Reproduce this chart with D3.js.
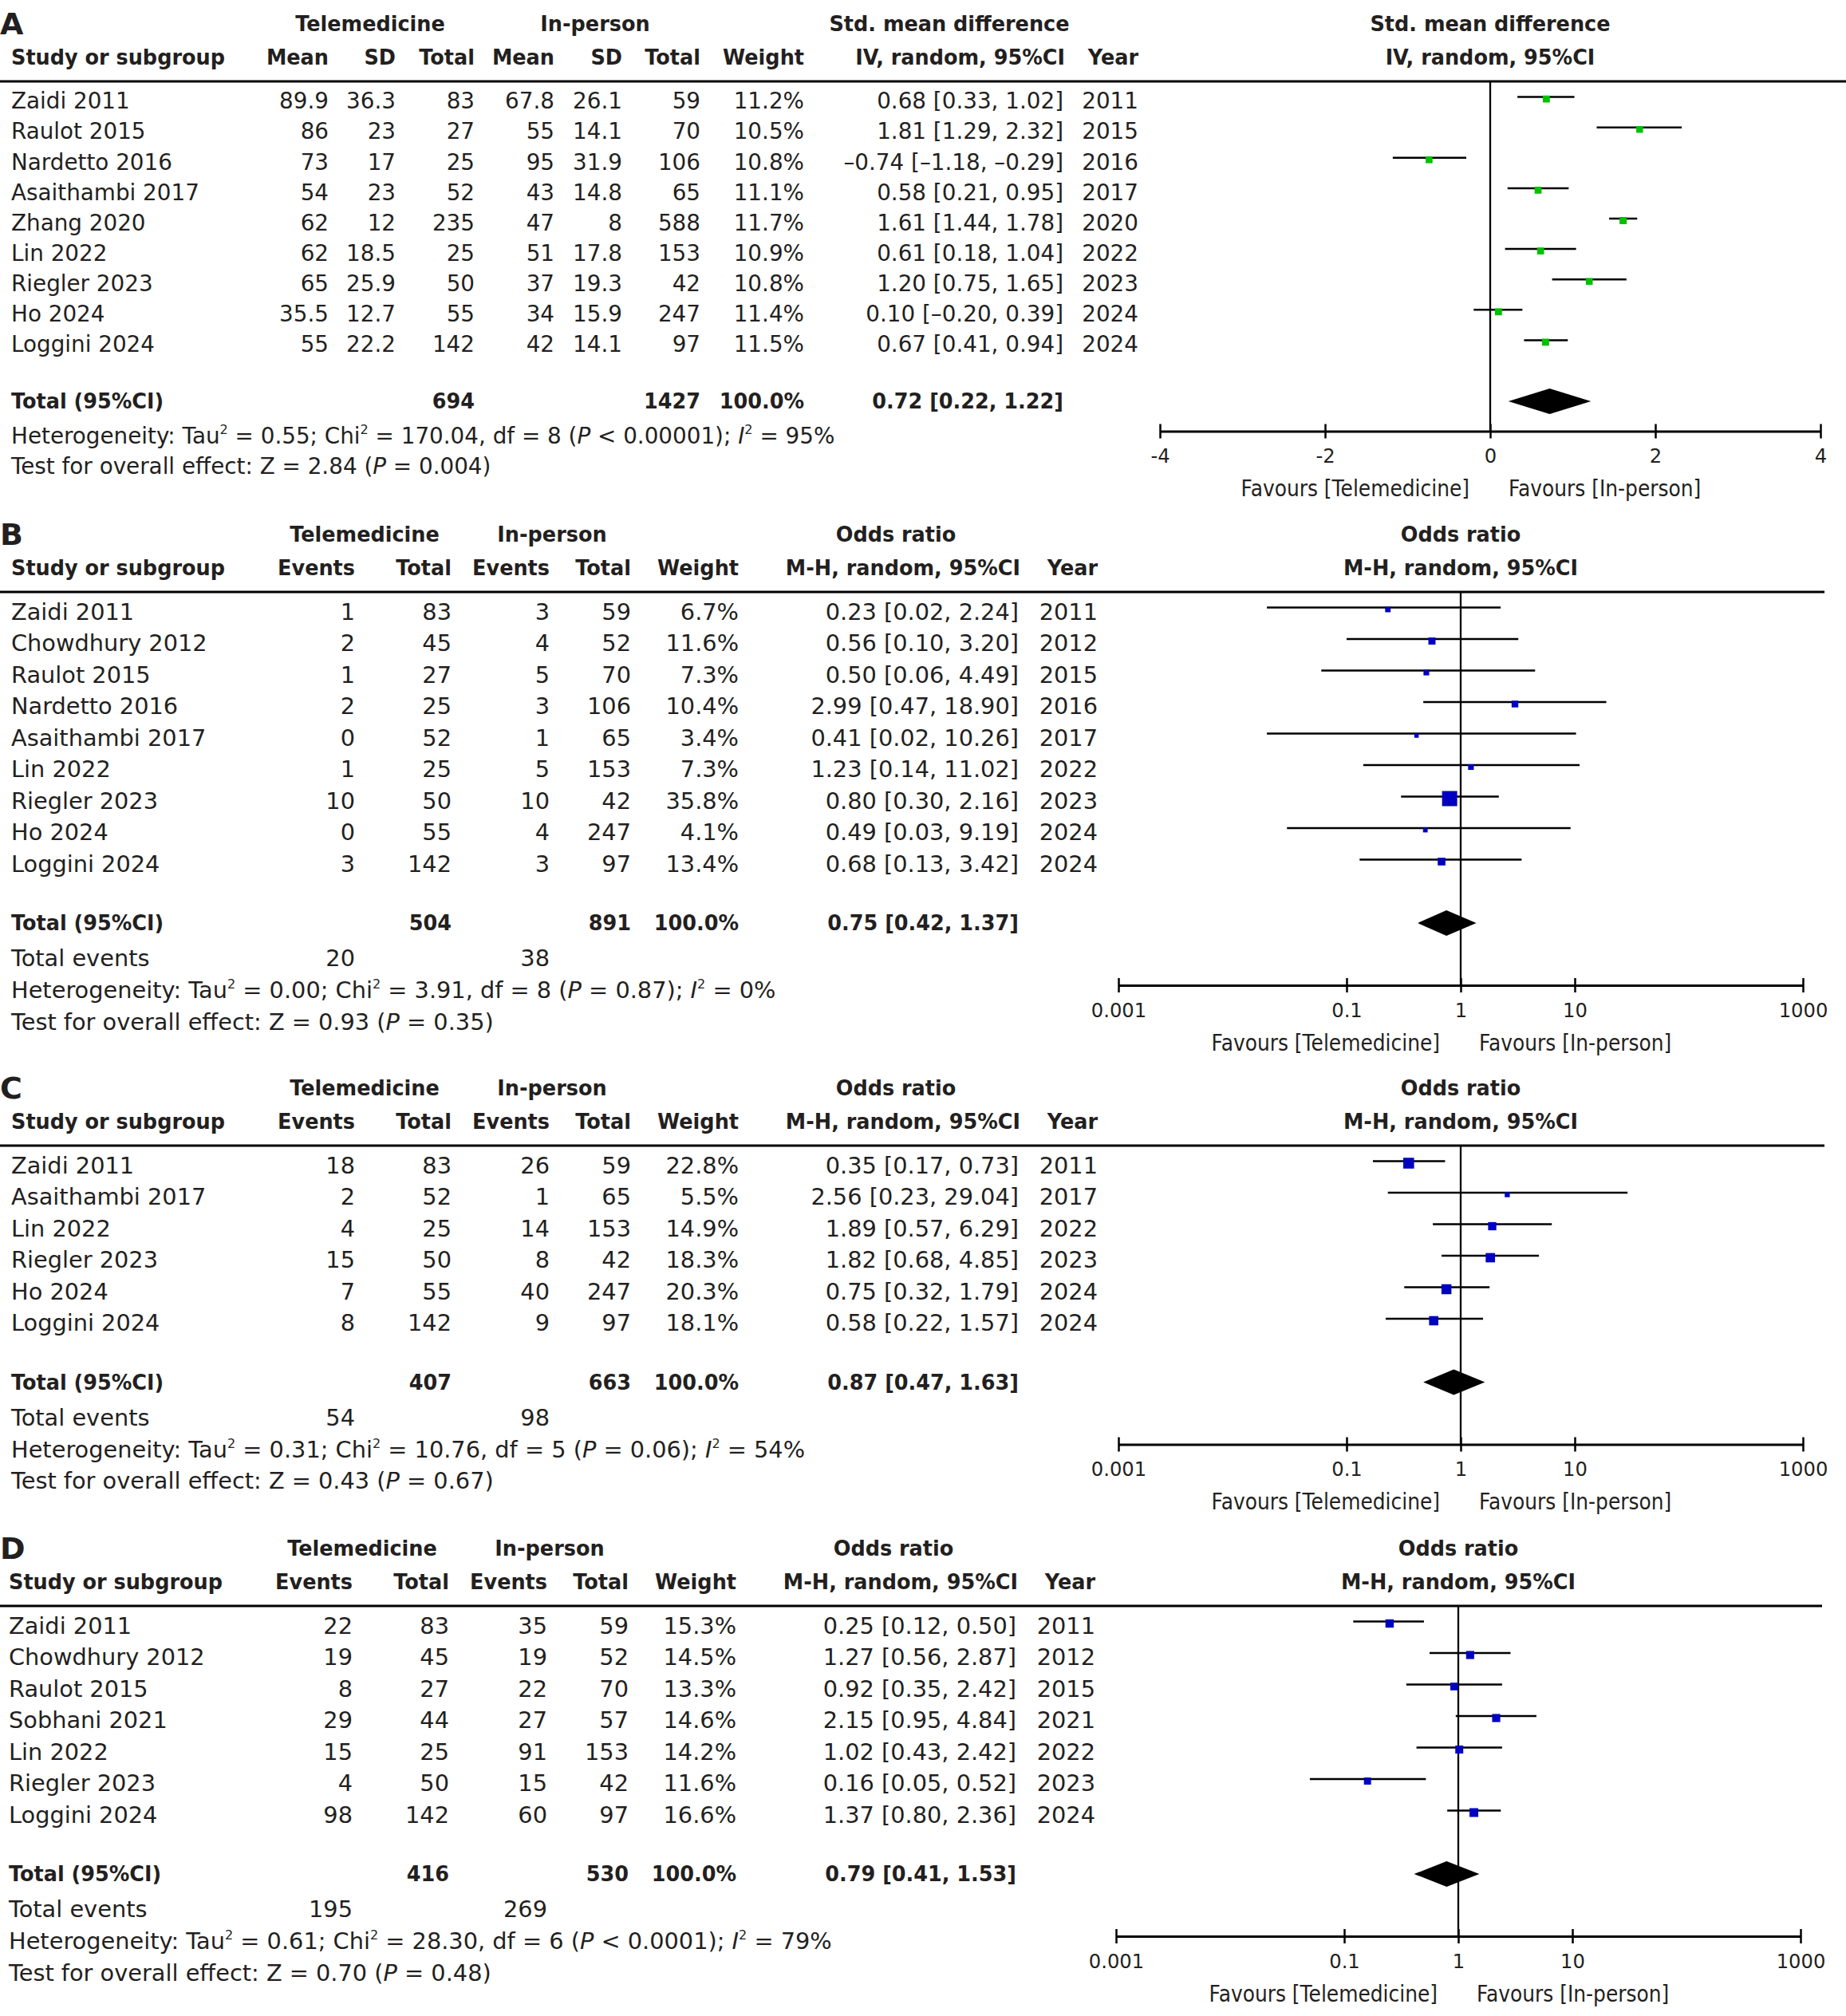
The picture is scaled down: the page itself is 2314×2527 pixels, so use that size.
<!DOCTYPE html>
<html>
<head>
<meta charset="utf-8">
<script src="https://cdn.jsdelivr.net/npm/d3@7"></script>
<style>
  body { margin: 0; background: #fff; }
  svg { font-family: "DejaVu Sans", Verdana, sans-serif; }
  text { fill: #231f20; }
</style>
</head>
<body>
<script>
// ---------- Panel A: continuous outcome, std. mean difference ----------
const studiesA = ['Zaidi 2011', 'Raulot 2015', 'Nardetto 2016', 'Asaithambi 2017', 'Zhang 2020',
  'Lin 2022', 'Riegler 2023', 'Ho 2024', 'Loggini 2024'];
const teleA = [[89.9, 36.3, 83], [86, 23, 27], [73, 17, 25], [54, 23, 52], [62, 12, 235],
  [62, 18.5, 25], [65, 25.9, 50], [35.5, 12.7, 55], [55, 22.2, 142]];
const inpA = [[67.8, 26.1, 59], [55, 14.1, 70], [95, 31.9, 106], [43, 14.8, 65], [47, 8, 588],
  [51, 17.8, 153], [37, 19.3, 42], [34, 15.9, 247], [42, 14.1, 97]];
const weightA = [11.2, 10.5, 10.8, 11.1, 11.7, 10.9, 10.8, 11.4, 11.5];
const smdA = [[0.68, 0.33, 1.02], [1.81, 1.29, 2.32], [-0.74, -1.18, -0.29], [0.58, 0.21, 0.95],
  [1.61, 1.44, 1.78], [0.61, 0.18, 1.04], [1.20, 0.75, 1.65], [0.10, -0.20, 0.39], [0.67, 0.41, 0.94]];
const yearA = [2011, 2015, 2016, 2017, 2020, 2022, 2023, 2024, 2024];
const totalsA = [694, 1427];
const pooledA = [0.72, 0.22, 1.22];
const hetA = ['0.55', '170.04', 8, '<', '0.00001', 95];
const zA = ['2.84', '=', '0.004'];
const ticksA = [-4, -2, 0, 2, 4];

// ---------- Panel B ----------
const studiesB = ['Zaidi 2011', 'Chowdhury 2012', 'Raulot 2015', 'Nardetto 2016', 'Asaithambi 2017',
  'Lin 2022', 'Riegler 2023', 'Ho 2024', 'Loggini 2024'];
const teleB = [[1, 83], [2, 45], [1, 27], [2, 25], [0, 52], [1, 25], [10, 50], [0, 55], [3, 142]];
const inpB = [[3, 59], [4, 52], [5, 70], [3, 106], [1, 65], [5, 153], [10, 42], [4, 247], [3, 97]];
const weightB = [6.7, 11.6, 7.3, 10.4, 3.4, 7.3, 35.8, 4.1, 13.4];
const orB = [[0.23, 0.02, 2.24], [0.56, 0.10, 3.20], [0.50, 0.06, 4.49], [2.99, 0.47, 18.90],
  [0.41, 0.02, 10.26], [1.23, 0.14, 11.02], [0.80, 0.30, 2.16], [0.49, 0.03, 9.19], [0.68, 0.13, 3.42]];
const yearB = [2011, 2012, 2015, 2016, 2017, 2022, 2023, 2024, 2024];
const totalsB = [504, 891];
const eventsB = [20, 38];
const pooledB = [0.75, 0.42, 1.37];
const hetB = ['0.00', '3.91', 8, '=', '0.87', 0];
const zB = ['0.93', '=', '0.35'];

// ---------- Panel C ----------
const studiesC = ['Zaidi 2011', 'Asaithambi 2017', 'Lin 2022', 'Riegler 2023', 'Ho 2024', 'Loggini 2024'];
const teleC = [[18, 83], [2, 52], [4, 25], [15, 50], [7, 55], [8, 142]];
const inpC = [[26, 59], [1, 65], [14, 153], [8, 42], [40, 247], [9, 97]];
const weightC = [22.8, 5.5, 14.9, 18.3, 20.3, 18.1];
const orC = [[0.35, 0.17, 0.73], [2.56, 0.23, 29.04], [1.89, 0.57, 6.29], [1.82, 0.68, 4.85],
  [0.75, 0.32, 1.79], [0.58, 0.22, 1.57]];
const yearC = [2011, 2017, 2022, 2023, 2024, 2024];
const totalsC = [407, 663];
const eventsC = [54, 98];
const pooledC = [0.87, 0.47, 1.63];
const hetC = ['0.31', '10.76', 5, '=', '0.06', 54];
const zC = ['0.43', '=', '0.67'];

// ---------- Panel D ----------
const studiesD = ['Zaidi 2011', 'Chowdhury 2012', 'Raulot 2015', 'Sobhani 2021', 'Lin 2022',
  'Riegler 2023', 'Loggini 2024'];
const teleD = [[22, 83], [19, 45], [8, 27], [29, 44], [15, 25], [4, 50], [98, 142]];
const inpD = [[35, 59], [19, 52], [22, 70], [27, 57], [91, 153], [15, 42], [60, 97]];
const weightD = [15.3, 14.5, 13.3, 14.6, 14.2, 11.6, 16.6];
const orD = [[0.25, 0.12, 0.50], [1.27, 0.56, 2.87], [0.92, 0.35, 2.42], [2.15, 0.95, 4.84],
  [1.02, 0.43, 2.42], [0.16, 0.05, 0.52], [1.37, 0.80, 2.36]];
const yearD = [2011, 2012, 2015, 2021, 2022, 2023, 2024];
const totalsD = [416, 530];
const eventsD = [195, 269];
const pooledD = [0.79, 0.41, 1.53];
const hetD = ['0.61', '28.30', 6, '<', '0.0001', 79];
const zD = ['0.70', '=', '0.48'];

const ticksOR = [0.001, 0.1, 1, 10, 1000];

// ---------- drawing ----------
const W = 2314, H = 2527;
// bold + axis texts in the original are set in a narrower face: squeeze DejaVu a bit
const BOLD = 27, BOLD_SQ = 0.945;
const AXIS_FONT = 25.5, AXIS_SQ = 0.95;
const FAV_FONT = 28, FAV_SQ = 0.89;

const svg = d3.select('body').append('svg')
  .attr('width', W)
  .attr('height', H);
svg.append('rect').attr('width', W).attr('height', H).attr('fill', '#fff');

// square side grows with weight
const sizeScale = d3.scaleLinear().domain([0, 100]).range([4.1, 45.6]);

function squeeze(t, k) {
  if (!k || k === 1) return t;
  const len = t.node().getComputedTextLength();
  return t.attr('textLength', len * k).attr('lengthAdjust', 'spacingAndGlyphs');
}

function label(g, x, y, s, anchor, size, bold, k) {
  const t = g.append('text')
    .attr('x', x).attr('y', y).attr('dy', '0.35em')
    .attr('text-anchor', anchor || 'start')
    .attr('font-weight', bold ? 'bold' : 'normal')
    .attr('font-size', size)
    .text(s);
  return squeeze(t, k);
}

function richLine(g, x, y, size, segs) {
  const t = g.append('text').attr('x', x).attr('y', y).attr('dy', '0.35em').attr('font-size', size);
  let raised = false;
  segs.forEach(([s, k]) => {
    const sp = t.append('tspan').text(s);
    if (k === 'sup') {
      sp.attr('dy', -12).attr('font-size', 16);
      raised = true;
    } else {
      if (raised) { sp.attr('dy', 12); raised = false; }
      if (k === 'it') sp.attr('font-style', 'italic');
    }
  });
}

const num = v => (v < 0 ? '\u2013' : '') + Math.abs(v).toFixed(2);
const ciText = d => `${num(d[0])} [${num(d[1])}, ${num(d[2])}]`;

function drawPanel(p) {
  const g = svg.append('g').attr('transform', `translate(${p.dx},${p.top})`);
  const R = p.reg;
  const bold = (x, y, s, anchor, size) => label(g, x, y, s, anchor, size || BOLD, true, size ? 1 : BOLD_SQ);
  const n = p.studies.length;
  const rowY = i => p.row0 + i * p.step;
  const lastY = rowY(n - 1);
  const totalY = lastY + p.totalGap;
  const axisY = totalY + p.axisGap;

  // headers
  bold(-p.dx, 30, p.letter, 'start', 38);
  bold(p.grp[0], 30, 'Telemedicine', 'middle');
  bold(p.grp[1], 30, 'In-person', 'middle');
  bold(p.effHead, 30, p.effTitle[0], 'middle');
  bold(14, 72, 'Study or subgroup', 'start');
  p.colHeads.forEach((h, j) => bold(p.cols[j], 72, h, 'end'));
  bold(p.wCol, 72, 'Weight', 'end');
  bold(p.ciCol + 2, 72, p.effTitle[1], 'end');
  bold(p.yearCol, 72, 'Year', 'end');

  const x = p.scale;
  const nullX = x(p.nullValue);
  bold(nullX, 30, p.effTitle[0], 'middle');
  bold(nullX, 72, p.effTitle[1], 'middle');

  g.append('line')
    .attr('x1', 0).attr('x2', p.lineEnd)
    .attr('y1', 102).attr('y2', 102)
    .attr('stroke', '#000').attr('stroke-width', 3);

  // study rows
  p.studies.forEach((s, i) => {
    const y = rowY(i);
    label(g, 14, y, s, 'start', R);
    p.values[i].forEach((v, j) => label(g, p.cols[j], y, String(v), 'end', R));
    label(g, p.wCol, y, p.weights[i].toFixed(1) + '%', 'end', R);
    label(g, p.ciCol, y, ciText(p.effects[i]), 'end', R);
    label(g, p.yearCol, y, String(p.years[i]), 'end', R);
  });

  // total rows
  bold(14, totalY, 'Total (95%CI)', 'start');
  bold(p.cols[p.totalCols[0]], totalY, String(p.totals[0]), 'end');
  bold(p.cols[p.totalCols[1]], totalY, String(p.totals[1]), 'end');
  bold(p.wCol, totalY, '100.0%', 'end');
  bold(p.ciCol, totalY, ciText(p.pooled), 'end');

  let y = totalY;
  if (p.events) {
    y += 44;
    label(g, 14, y, 'Total events', 'start', R);
    label(g, p.cols[0], y, String(p.events[0]), 'end', R);
    label(g, p.cols[2], y, String(p.events[1]), 'end', R);
    y += 40;
  } else {
    y += 43.5;
  }
  const h = p.het;
  richLine(g, 14, y, R, [['Heterogeneity: Tau'], ['2', 'sup'], [` = ${h[0]}; Chi`], ['2', 'sup'],
    [` = ${h[1]}, df = ${h[2]} (`], ['P', 'it'], [` ${h[3]} ${h[4]}); `], ['I', 'it'], ['2', 'sup'],
    [` = ${h[5]}%`]]);
  y += p.events ? 39.5 : 38;
  richLine(g, 14, y, R, [[`Test for overall effect: Z = ${p.z[0]} (`], ['P', 'it'], [` ${p.z[1]} ${p.z[2]})`]]);

  // forest plot
  g.append('line')
    .attr('x1', nullX).attr('x2', nullX)
    .attr('y1', 102).attr('y2', axisY)
    .attr('stroke', '#000').attr('stroke-width', 2.3);

  g.selectAll('.ci')
    .data(p.effects)
    .join('line')
    .attr('class', 'ci')
    .attr('x1', d => x(d[1])).attr('x2', d => x(d[2]))
    .attr('y1', (d, i) => rowY(i) - 5).attr('y2', (d, i) => rowY(i) - 5)
    .attr('stroke', '#000').attr('stroke-width', 2.5);

  g.selectAll('.sq')
    .data(p.effects)
    .join('rect')
    .attr('class', 'sq')
    .attr('width', (d, i) => sizeScale(p.weights[i]))
    .attr('height', (d, i) => sizeScale(p.weights[i]))
    .attr('x', (d, i) => x(d[0]) - sizeScale(p.weights[i]) / 2)
    .attr('y', (d, i) => rowY(i) - 2.5 - sizeScale(p.weights[i]) / 2)
    .attr('fill', p.color);

  const pd = p.pooled;
  g.append('path')
    .attr('d', `M${x(pd[1])},${totalY}L${x(pd[0])},${totalY - 16}L${x(pd[2])},${totalY}L${x(pd[0])},${totalY + 16}Z`)
    .attr('fill', '#000');

  const axis = d3.axisBottom(x)
    .tickValues(p.ticks)
    .tickSize(9)
    .tickSizeOuter(0)
    .tickFormat(d => String(d));
  const ga = g.append('g')
    .attr('transform', `translate(0,${axisY})`)
    .call(axis)
    .attr('font-size', null)
    .attr('font-family', null);
  ga.select('.domain').attr('stroke', '#000').attr('stroke-width', 3);
  ga.selectAll('.tick line').attr('y1', -9).attr('y2', 9).attr('stroke', '#000').attr('stroke-width', 2.5);
  ga.selectAll('.tick text')
    .attr('y', 31).attr('dy', '0.35em')
    .attr('font-size', AXIS_FONT)
    .attr('fill', '#231f20')
    .each(function () { squeeze(d3.select(this), AXIS_SQ); });

  label(g, nullX - 26, axisY + 72, 'Favours [Telemedicine]', 'end', FAV_FONT, false, FAV_SQ);
  label(g, nullX + 23, axisY + 72, 'Favours [In-person]', 'start', FAV_FONT, false, FAV_SQ);
}

const logX = (r) => d3.scaleLog().domain([0.001, 1000]).range(r);

const orLayout = {
  reg: 28.8,
  row0: 126.5, step: 39.5, totalGap: 74.5, axisGap: 78,
  cols: [445, 566, 689, 791], wCol: 926, ciCol: 1277, yearCol: 1376,
  grp: [457, 692], effHead: 1123, lineEnd: 2287,
  colHeads: ['Events', 'Total', 'Events', 'Total'], totalCols: [1, 3],
  effTitle: ['Odds ratio', 'M-H, random, 95%CI'],
  nullValue: 1, ticks: ticksOR, color: '#0000c0'
};

const rowsOf = (a, b) => a.map((t, i) => [...t, ...b[i]]);

drawPanel({
  letter: 'A', top: 0, dx: 0, reg: 27.8,
  row0: 126.6, step: 38.1, totalGap: 71.6, axisGap: 37.5,
  cols: [412, 496, 595, 695, 780, 878], wCol: 1008, ciCol: 1333, yearCol: 1427,
  grp: [464, 746], effHead: 1190, lineEnd: 2314,
  colHeads: ['Mean', 'SD', 'Total', 'Mean', 'SD', 'Total'], totalCols: [2, 5],
  effTitle: ['Std. mean difference', 'IV, random, 95%CI'],
  studies: studiesA, values: rowsOf(teleA, inpA), weights: weightA, effects: smdA, years: yearA,
  totals: totalsA, pooled: pooledA, het: hetA, z: zA, events: null,
  scale: d3.scaleLinear().domain([-4, 4]).range([1454, 2282]),
  nullValue: 0, ticks: ticksA, color: '#00c000'
});

drawPanel(Object.assign({}, orLayout, {
  letter: 'B', top: 640, dx: 0,
  studies: studiesB, values: rowsOf(teleB, inpB), weights: weightB, effects: orB, years: yearB,
  totals: totalsB, pooled: pooledB, het: hetB, z: zB, events: eventsB,
  scale: logX([1402, 2260])
}));

drawPanel(Object.assign({}, orLayout, {
  letter: 'C', top: 1334, dx: 0,
  studies: studiesC, values: rowsOf(teleC, inpC), weights: weightC, effects: orC, years: yearC,
  totals: totalsC, pooled: pooledC, het: hetC, z: zC, events: eventsC,
  scale: logX([1402, 2260])
}));

drawPanel(Object.assign({}, orLayout, {
  letter: 'D', top: 1911, dx: -3,
  studies: studiesD, values: rowsOf(teleD, inpD), weights: weightD, effects: orD, years: yearD,
  totals: totalsD, pooled: pooledD, het: hetD, z: zD, events: eventsD,
  scale: logX([1402, 2260])
}));
</script>
</body>
</html>
